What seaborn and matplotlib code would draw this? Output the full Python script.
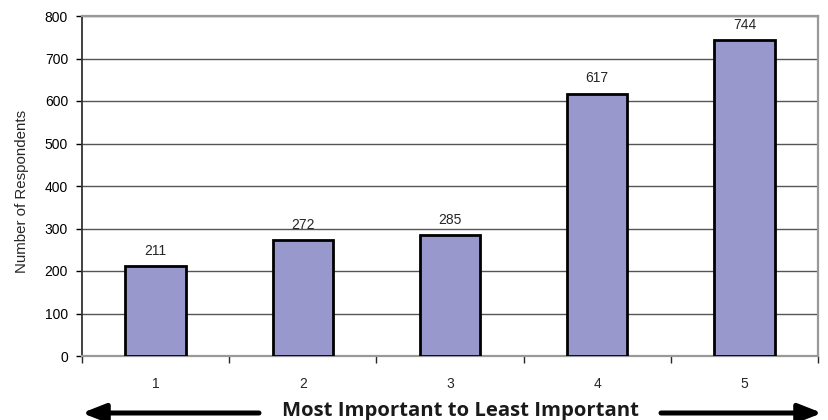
import matplotlib
matplotlib.use("Agg")
import matplotlib.pyplot as plt
import matplotlib.patches as mpatches
import seaborn as sns
import pandas as pd
import numpy as np

categories = ["1", "2", "3", "4", "5"]
respondents = [211, 272, 285, 617, 744]
y_ticks = [0, 100, 200, 300, 400, 500, 600, 700, 800]

sns.set_style("white")
plt.rcParams['font.family'] = ['Liberation Sans', 'DejaVu Sans']

df = pd.DataFrame({"rank": categories, "n": respondents})

fig = plt.figure(figsize=(8.29, 4.2), dpi=100)
ax = fig.add_axes([82 / 829, 64 / 420, 736 / 829, 340 / 420])

sns.barplot(data=df, x="rank", y="n", color="#9898CC", saturation=1,
            width=0.41, edgecolor="black", linewidth=2, ax=ax, zorder=3)

ax.set_ylim(0, 800)
ax.set_xlim(-0.5, 4.5)
ax.set_yticks(y_ticks)
ax.yaxis.grid(True, color="#555555", linewidth=1, zorder=0)
ax.set_axisbelow(True)
ax.tick_params(axis="y", labelsize=10, length=4, direction="out", left=True,
               width=1, pad=6, colors="black")
ax.tick_params(axis="x", which="major", labelsize=10, length=0, pad=15)
ax.set_xticks(np.arange(-0.5, 5, 1), minor=True)
ax.tick_params(axis="x", which="minor", length=5, direction="out", bottom=True, width=1)
ax.set_xlabel("")
ax.set_ylabel("Number of Respondents", fontsize=10.8)
ax.yaxis.set_label_coords(-0.072, 0.484)

for s in ["top", "right", "bottom"]:
    ax.spines[s].set_color("#999999")
    ax.spines[s].set_linewidth(1.6)
ax.spines["left"].set_color("#333333")
ax.spines["left"].set_linewidth(1.3)

for i, v in enumerate(respondents):
    ax.annotate(str(v), (i, v), xytext=(0, 11), textcoords="offset points",
                ha="center", va="center", fontsize=10)

# bottom label with arrows
fig.text(461 / 829, 4 / 420, "Most Important to Least Important", ha="center",
         va="baseline", fontsize=14.6, fontweight="bold",
         family=["Open Sans", "DejaVu Sans"], color="#1a1a1a")
fig.patches.append(mpatches.FancyArrowPatch(
    (259 / 829, 7 / 420), (82 / 829, 7 / 420), transform=fig.transFigure,
    arrowstyle="-|>,head_length=14,head_width=5.5", linewidth=3.6, color="black",
    mutation_scale=1, shrinkA=0, shrinkB=0))
fig.patches.append(mpatches.FancyArrowPatch(
    (661 / 829, 7 / 420), (822 / 829, 7 / 420), transform=fig.transFigure,
    arrowstyle="-|>,head_length=14,head_width=5.5", linewidth=3.6, color="black",
    mutation_scale=1, shrinkA=0, shrinkB=0))

fig.savefig("out.png", dpi=100)
